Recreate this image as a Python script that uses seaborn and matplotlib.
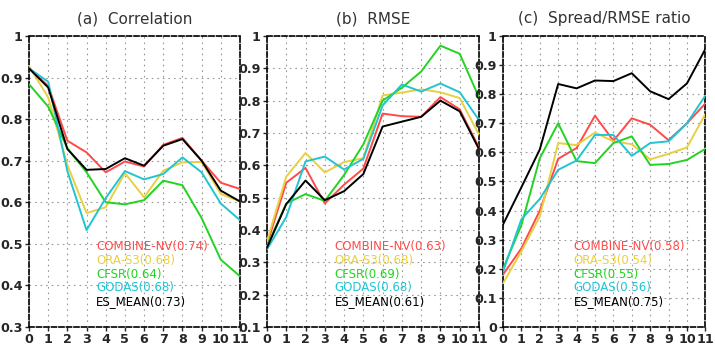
import numpy as np
import pandas as pd
import matplotlib
matplotlib.use("Agg")
import matplotlib.pyplot as plt
import seaborn as sns

leads = list(range(12))
series_names = ["COMBINE-NV", "ORA-S3", "CFSR", "GODAS", "ES_MEAN"]
colors = ["#ff4a4a", "#e8d040", "#22d422", "#22c4d2", "#000000"]

# (a) Correlation
corr_combine = [0.922, 0.880, 0.748, 0.720, 0.672, 0.698, 0.686, 0.738, 0.755, 0.700, 0.647, 0.632]
corr_ora     = [0.928, 0.852, 0.690, 0.574, 0.588, 0.670, 0.612, 0.676, 0.696, 0.697, 0.620, 0.602]
corr_cfsr    = [0.884, 0.830, 0.730, 0.672, 0.600, 0.595, 0.605, 0.652, 0.641, 0.562, 0.462, 0.422]
corr_godas   = [0.922, 0.890, 0.675, 0.533, 0.610, 0.675, 0.655, 0.668, 0.708, 0.672, 0.597, 0.557]
corr_esmean  = [0.922, 0.876, 0.728, 0.678, 0.680, 0.706, 0.688, 0.736, 0.752, 0.700, 0.628, 0.602]
corr_labels  = ["0.74", "0.68", "0.64", "0.68", "0.73"]

# (b) RMSE
rmse_combine = [0.355, 0.546, 0.592, 0.482, 0.540, 0.590, 0.760, 0.752, 0.750, 0.811, 0.773, 0.655]
rmse_ora     = [0.365, 0.565, 0.638, 0.578, 0.610, 0.622, 0.816, 0.825, 0.835, 0.826, 0.808, 0.695]
rmse_cfsr    = [0.350, 0.482, 0.511, 0.490, 0.570, 0.665, 0.800, 0.840, 0.890, 0.970, 0.945, 0.810]
rmse_godas   = [0.340, 0.440, 0.612, 0.627, 0.587, 0.620, 0.785, 0.850, 0.828, 0.853, 0.826, 0.740]
rmse_esmean  = [0.345, 0.480, 0.553, 0.492, 0.520, 0.573, 0.720, 0.735, 0.750, 0.800, 0.767, 0.650]
rmse_labels  = ["0.63", "0.68", "0.69", "0.68", "0.61"]

# (c) Spread/RMSE ratio
ratio_combine = [0.180, 0.270, 0.400, 0.578, 0.615, 0.726, 0.640, 0.717, 0.695, 0.642, 0.700, 0.768]
ratio_ora     = [0.150, 0.260, 0.380, 0.632, 0.625, 0.668, 0.638, 0.628, 0.576, 0.595, 0.617, 0.732]
ratio_cfsr    = [0.200, 0.350, 0.580, 0.700, 0.570, 0.563, 0.632, 0.655, 0.557, 0.560, 0.574, 0.612]
ratio_godas   = [0.190, 0.370, 0.440, 0.540, 0.572, 0.660, 0.660, 0.588, 0.632, 0.638, 0.700, 0.795]
ratio_esmean  = [0.352, 0.480, 0.610, 0.835, 0.820, 0.847, 0.845, 0.872, 0.810, 0.783, 0.837, 0.955]
ratio_labels  = ["0.58", "0.54", "0.55", "0.56", "0.75"]

panels = [
    ("(a)  Correlation", [corr_combine, corr_ora, corr_cfsr, corr_godas, corr_esmean], corr_labels, (0.3, 1.0)),
    ("(b)  RMSE", [rmse_combine, rmse_ora, rmse_cfsr, rmse_godas, rmse_esmean], rmse_labels, (0.1, 1.0)),
    ("(c)  Spread/RMSE ratio", [ratio_combine, ratio_ora, ratio_cfsr, ratio_godas, ratio_esmean], ratio_labels, (0.0, 1.0)),
]

sns.set_style("white")
plt.rcParams["font.family"] = ["DejaVu Sans"]

fig = plt.figure(figsize=(7.15, 3.46), dpi=100)
axes_rects = [
    [0.0406, 0.055, 0.295, 0.841],
    [0.3734, 0.055, 0.2965, 0.841],
    [0.7035, 0.055, 0.283, 0.841],
]
legend_x = [0.317, 0.32, 0.35]

for (title, data, labels, ylim), rect, lx in zip(panels, axes_rects, legend_x):
    ax = fig.add_axes(rect)
    rows = []
    for name, vals in zip(series_names, data):
        for l, v in zip(leads, vals):
            rows.append({"lead": l, "value": v, "series": name})
    df = pd.DataFrame(rows)
    sns.lineplot(data=df, x="lead", y="value", hue="series", hue_order=series_names,
                 palette=colors, linewidth=1.4, legend=False, ax=ax, zorder=3)
    ax.set_xlim(0, 11)
    ax.set_ylim(*ylim)
    ax.set_xticks(leads)
    yt = np.round(np.arange(ylim[0], 1.0001, 0.1), 1)
    ax.set_yticks(yt)
    ax.set_yticklabels([("%g" % t) for t in yt])
    ax.set_xlabel("")
    ax.set_ylabel("")
    ax.grid(True, linestyle=(0, (1.5, 3.5)), color="#999999", linewidth=0.8)
    for s in ax.spines.values():
        s.set_linestyle((0, (3, 1.5)))
        s.set_linewidth(1.2)
        s.set_color("black")
        s.set_visible(True)
    ax.tick_params(axis="both", direction="out", length=3, width=1, pad=1.5,
                   labelsize=9.2, bottom=True, left=True)
    for lab in ax.get_xticklabels() + ax.get_yticklabels():
        lab.set_fontweight("bold")
    ax.set_title(title, fontsize=11, pad=9, color="#333333")
    for i, (name, lbl, c) in enumerate(zip(series_names, labels, colors)):
        ax.text(lx, 0.278 - i * 0.048, f"{name}({lbl})", transform=ax.transAxes,
                color=c, fontsize=8.5, va="center", ha="left", zorder=4)

fig.savefig("out.png", dpi=100)
